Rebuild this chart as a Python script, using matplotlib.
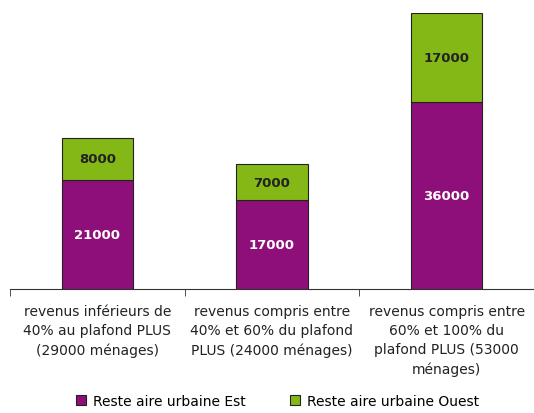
import numpy as np
import matplotlib.pyplot as plt

categories = ["revenus inférieurs de\n40% au plafond PLUS\n(29000 ménages)",
              "revenus compris entre\n40% et 60% du plafond\nPLUS (24000 ménages)",
              "revenus compris entre\n60% et 100% du\nplafond PLUS (53000\nménages)"]
est = [21000, 17000, 36000]
ouest = [8000, 7000, 17000]

purple = "#8E0F79"
green = "#84B816"

fig = plt.figure(figsize=(5.34, 4.14), dpi=100)
ax = fig.add_axes([10/534, 1 - 290/414, 1 - 10/534, (290 - 14)/414])

x = np.arange(len(categories))
w = 0.41
b1 = ax.bar(x, est, w, color=purple, edgecolor="#222222", linewidth=0.8,
            label="Reste aire urbaine Est")
b2 = ax.bar(x, ouest, w, bottom=est, color=green, edgecolor="#222222", linewidth=0.8,
            label="Reste aire urbaine Ouest")

for i in range(len(x)):
    ax.text(x[i], est[i] / 2, str(est[i]), ha="center", va="center",
            color="white", fontsize=9.5, fontweight="bold")
    ax.text(x[i], est[i] + ouest[i] / 2, str(ouest[i]), ha="center", va="center",
            color="#222222", fontsize=9.5, fontweight="bold")

ax.set_xlim(-0.5, 2.5)
ax.set_ylim(0, 53000)
for s in ["top", "right", "left"]:
    ax.spines[s].set_visible(False)
ax.spines["bottom"].set_color("#333333")
ax.set_yticks([])
ax.set_xticks(x)
ax.set_xticklabels(categories, fontsize=10, color="#222222", linespacing=1.45)
ax.tick_params(axis="x", which="major", length=0, pad=11)
ax.set_xticks([-0.5, 0.5, 1.5, 2.5], minor=True)
ax.tick_params(axis="x", which="minor", length=5, color="#333333")

fig.legend(handles=[b1, b2], loc="lower center", ncol=2, frameon=False,
           fontsize=10, bbox_to_anchor=(0.52, -0.018), handlelength=0.7,
           handleheight=0.7, columnspacing=3.2, handletextpad=0.5)

fig.savefig("out.png", dpi=100)
